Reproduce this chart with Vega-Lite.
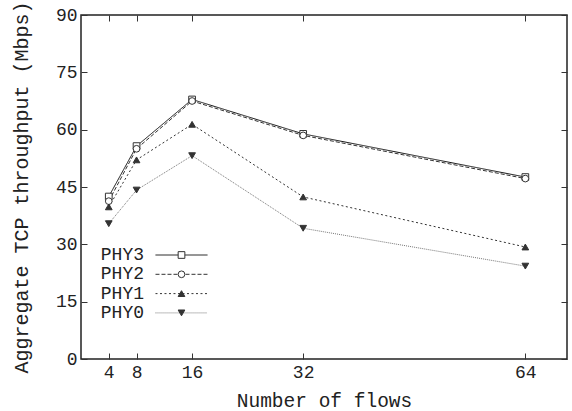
{
  "$schema": "https://vega.github.io/schema/vega-lite/v6.json",
  "width": 486,
  "height": 344,
  "autosize": {"type": "none"},
  "padding": {"left": 81, "top": 15, "right": 5, "bottom": 52},
  "config": {
    "font": "Liberation Mono",
    "view": {"stroke": "#222", "strokeWidth": 1.5},
    "axis": {
      "domain": false,
      "grid": false,
      "tickSize": -6,
      "tickColor": "#333",
      "tickWidth": 1,
      "labelFont": "Liberation Mono",
      "labelFontSize": 18,
      "labelColor": "#222",
      "titleFont": "Liberation Mono",
      "titleFontWeight": "normal",
      "titleColor": "#222"
    },
    "legend": {
      "labelFont": "Liberation Mono",
      "labelFontSize": 18,
      "labelColor": "#222"
    }
  },
  "data": {
    "values": [
      {"series": "PHY3", "flows": 4, "throughput": 42.5},
      {"series": "PHY3", "flows": 8, "throughput": 55.7},
      {"series": "PHY3", "flows": 16, "throughput": 67.9},
      {"series": "PHY3", "flows": 32, "throughput": 58.9},
      {"series": "PHY3", "flows": 64, "throughput": 47.6},
      {"series": "PHY2", "flows": 4, "throughput": 41.3},
      {"series": "PHY2", "flows": 8, "throughput": 55.0},
      {"series": "PHY2", "flows": 16, "throughput": 67.5},
      {"series": "PHY2", "flows": 32, "throughput": 58.5},
      {"series": "PHY2", "flows": 64, "throughput": 47.2},
      {"series": "PHY1", "flows": 4, "throughput": 39.8},
      {"series": "PHY1", "flows": 8, "throughput": 52.1},
      {"series": "PHY1", "flows": 16, "throughput": 61.4},
      {"series": "PHY1", "flows": 32, "throughput": 42.4},
      {"series": "PHY1", "flows": 64, "throughput": 29.3},
      {"series": "PHY0", "flows": 4, "throughput": 35.4},
      {"series": "PHY0", "flows": 8, "throughput": 44.2},
      {"series": "PHY0", "flows": 16, "throughput": 53.2},
      {"series": "PHY0", "flows": 32, "throughput": 34.2},
      {"series": "PHY0", "flows": 64, "throughput": 24.3}
    ]
  },
  "layer": [
    {
      "mark": {"type": "line", "strokeWidth": 1},
      "encoding": {
        "x": {
          "field": "flows", "type": "quantitative",
          "scale": {"domain": [0, 70], "nice": false, "zero": false},
          "axis": {"orient": "bottom", "values": [4, 8, 16, 32, 64], "title": "Number of flows", "titleFontSize": 19.5, "labelPadding": 10, "titlePadding": 10}
        },
        "y": {
          "field": "throughput", "type": "quantitative",
          "scale": {"domain": [0, 90], "nice": false},
          "axis": {"orient": "left", "values": [0, 15, 30, 45, 60, 75, 90], "title": "Aggregate TCP throughput (Mbps)", "titleFontSize": 20, "labelPadding": 10, "titlePadding": 24}
        },
        "strokeDash": {
          "field": "series", "type": "nominal",
          "scale": {"domain": ["PHY3", "PHY2", "PHY1", "PHY0"], "range": [[1, 0], [4, 2], [2, 2.5], [1, 1]]},
          "legend": {
            "orient": "none", "legendX": 91.5, "legendY": 231, "title": null,
            "symbolType": "M-3.06,0H3.06", "symbolSize": 289, "symbolStrokeWidth": 1,
            "labelAlign": "right", "labelOffset": -46.5, "rowPadding": 1.3, "padding": 0,
            "encode": {"symbols": {"update": {"stroke": {"scale": "color", "field": "value"}, "strokeWidth": {"value": 1}, "opacity": {"value": 1}}}}
          }
        },
        "color": {
          "field": "series", "type": "nominal",
          "scale": {"domain": ["PHY3", "PHY2", "PHY1", "PHY0"], "range": ["#111", "#333", "#333", "#777"]},
          "legend": {
            "orient": "none", "legendX": 91.5, "legendY": 231, "title": null,
            "symbolType": "M-3.06,0H3.06", "symbolSize": 289, "symbolStrokeWidth": 1,
            "labelAlign": "right", "labelOffset": -46.5, "rowPadding": 1.3, "padding": 0,
            "encode": {"symbols": {"update": {"stroke": {"scale": "color", "field": "value"}, "strokeWidth": {"value": 1}, "opacity": {"value": 1}}}}
          }
        }
      }
    },
    {
      "mark": {"type": "point", "size": 45, "strokeWidth": 1, "opacity": 1, "stroke": "#333"},
      "encoding": {
        "x": {
          "field": "flows", "type": "quantitative",
          "axis": {"orient": "top", "values": [4, 8, 16, 32, 64], "labels": false, "title": null}
        },
        "y": {
          "field": "throughput", "type": "quantitative",
          "axis": {"orient": "right", "values": [0, 15, 30, 45, 60, 75, 90], "labels": false, "title": null}
        },
        "shape": {
          "field": "series", "type": "nominal", "sort": "descending",
          "scale": {"range": ["square", "circle", "triangle-up", "triangle-down"]},
          "legend": {
            "orient": "none", "legendX": 91.5, "legendY": 231, "title": null,
            "symbolSize": 45, "symbolStrokeWidth": 1,
            "labelOpacity": 0, "rowPadding": 1.3, "padding": 0,
            "encode": {"symbols": {"update": {"stroke": {"value": "#333"}, "strokeWidth": {"value": 1}, "opacity": {"value": 1}}}}
          }
        },
        "fill": {
          "field": "series", "type": "nominal", "sort": "descending",
          "scale": {"range": ["white", "white", "#333", "#333"]},
          "legend": {
            "orient": "none", "legendX": 91.5, "legendY": 231, "title": null,
            "symbolSize": 45, "symbolStrokeWidth": 1,
            "labelOpacity": 0, "rowPadding": 1.3, "padding": 0,
            "encode": {"symbols": {"update": {"stroke": {"value": "#333"}, "strokeWidth": {"value": 1}, "opacity": {"value": 1}}}}
          }
        }
      }
    }
  ],
  "resolve": {"axis": {"x": "independent", "y": "independent"}}
}
